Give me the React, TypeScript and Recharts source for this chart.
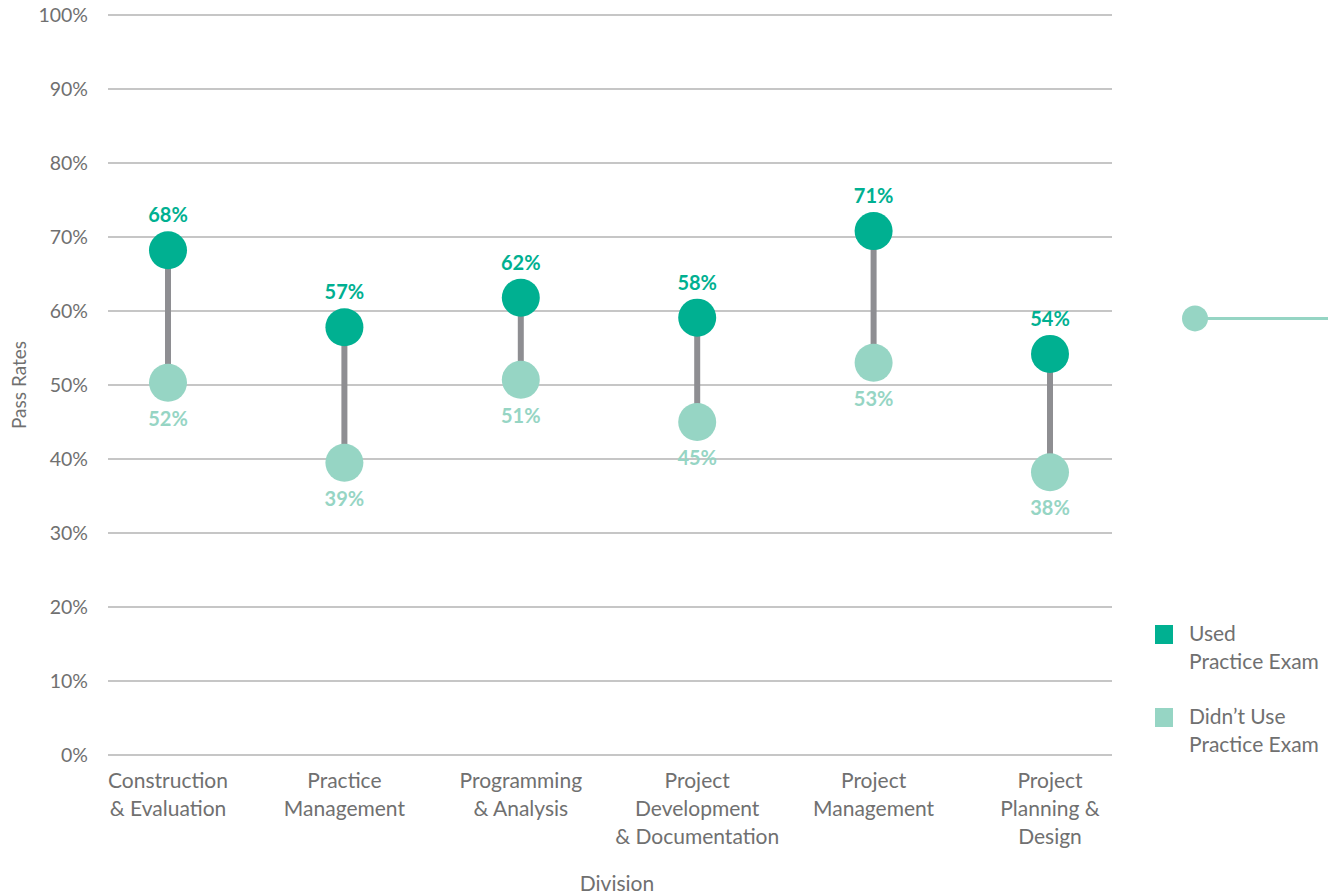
import React from 'react';
import { LineChart, Line, XAxis, YAxis, CartesianGrid, ErrorBar, LabelList, Legend, ReferenceLine, Label } from 'recharts';

const categories = [
  'Construction & Evaluation',
  'Practice Management',
  'Programming & Analysis',
  'Project Development & Documentation',
  'Project Management',
  'Project Planning & Design',
];
const categoryLines = [
  ['Construction', '& Evaluation'],
  ['Practice', 'Management'],
  ['Programming', '& Analysis'],
  ['Project', 'Development', '& Documentation'],
  ['Project', 'Management'],
  ['Project', 'Planning &', 'Design'],
];
const usedValues = [68.2, 57.8, 61.8, 59.1, 70.8, 54.2];
const didntValues = [50.3, 39.5, 50.7, 45.0, 53.0, 38.2];
const usedLabels = ['68%', '57%', '62%', '58%', '71%', '54%'];
const didntLabels = ['52%', '39%', '51%', '45%', '53%', '38%'];
const yTicks = [0, 10, 20, 30, 40, 50, 60, 70, 80, 90, 100];
const markerValue = 59;

const USED = '#00b091';
const DIDNT = '#96d5c4';
const CONNECTOR = '#8e8e92';
const TEXT = '#707070';
const FONT = 'Lato, "Open Sans", sans-serif';

const data = categories.map((c, i) => ({
  category: c,
  used: usedValues[i],
  didnt: didntValues[i],
  gap: [usedValues[i] - didntValues[i], 0],
  usedLabel: usedLabels[i],
  didntLabel: didntLabels[i],
}));

const XTick = (props: any) => {
  const { x, y, index } = props;
  const lines = categoryLines[index] || [];
  return (
    <g>
      {lines.map((l, i) => (
        <text key={i} x={x} y={y + 33 + i * 28} textAnchor="middle" fill={TEXT} fontSize={21} fontFamily={FONT}>
          {l}
        </text>
      ))}
    </g>
  );
};

const LegendContent = () => {
  const items = [
    { color: USED, lines: ['Used', 'Practice Exam'] },
    { color: DIDNT, lines: ['Didn\u2019t Use', 'Practice Exam'] },
  ];
  return (
    <div style={{ fontFamily: FONT, fontSize: 21, color: TEXT, textAlign: 'left' }}>
      {items.map((it, i) => (
        <div key={i} style={{ display: 'flex', alignItems: 'flex-start', marginBottom: i === 0 ? 27 : 0 }}>
          <div style={{ width: 18, height: 19, background: it.color, marginTop: 6, marginRight: 16, flex: 'none' }} />
          <div style={{ lineHeight: '28px', whiteSpace: 'nowrap' }}>
            {it.lines.map((l, j) => (
              <div key={j}>{l}</div>
            ))}
          </div>
        </div>
      ))}
    </div>
  );
};

const MarkerShape = (props: any) => {
  const { x2, y1 } = props;
  return (
    <g>
      <line x1={x2 + 90} y1={y1} x2={x2 + 216} y2={y1} stroke={DIDNT} strokeWidth={3} />
      <circle cx={x2 + 83} cy={y1} r={13} fill={DIDNT} />
    </g>
  );
};

export default function App() {
  return (
    <div style={{ position: 'absolute', left: 0, top: 0, background: '#fff' }}>
      <LineChart width={1328} height={894} data={data} margin={{ top: 15, right: 216, left: 0, bottom: 0 }}>
        <CartesianGrid horizontal vertical={false} stroke="#b3b3b3" strokeWidth={1.5} />
        <XAxis
          dataKey="category"
          height={139}
          padding={{ left: 60, right: 62 }}
          axisLine={false}
          tickLine={false}
          tickSize={0}
          tickMargin={0}
          tick={<XTick />}
          interval={0}
        >
          <Label
            content={(p: any) => {
              const vb = p.viewBox || {};
              return (
                <text x={vb.x + vb.width / 2 + 7} y={891} textAnchor="middle" fill={TEXT} fontSize={21} fontFamily={FONT}>
                  Division
                </text>
              );
            }}
          />
        </XAxis>
        <YAxis
          width={108}
          domain={[0, 100]}
          ticks={yTicks}
          interval={0}
          tickFormatter={(v: number) => `${v}%`}
          axisLine={false}
          tickLine={false}
          tickSize={0}
          tickMargin={20}
          tick={{ fill: TEXT, fontSize: 19.5, fontFamily: FONT }}
        >
          <Label
            content={(p: any) => {
              const vb = p.viewBox || {};
              const cy = vb.y + vb.height / 2;
              return (
                <text
                  x={18}
                  y={cy}
                  transform={`rotate(-90, 18, ${cy})`}
                  textAnchor="middle"
                  dominantBaseline="central"
                  fill={TEXT}
                  fontSize={19}
                  fontFamily={FONT}
                >
                  Pass Rates
                </text>
              );
            }}
          />
        </YAxis>
        <ReferenceLine y={markerValue} stroke="none" shape={<MarkerShape />} />
        <Line dataKey="used" stroke="none" dot={false} activeDot={false} isAnimationActive={false} legendType="none">
          <ErrorBar dataKey="gap" direction="y" width={0} stroke={CONNECTOR} strokeWidth={6} />
        </Line>
        <Line
          dataKey="used"
          stroke="none"
          activeDot={false}
          isAnimationActive={false}
          dot={(p: any) => <circle key={`u${p.index}`} cx={p.cx} cy={p.cy} r={19} fill={USED} />}
        >
          <LabelList
            dataKey="usedLabel"
            content={(p: any) => (
              <text x={p.x} y={p.y - 28} textAnchor="middle" fill={USED} fontSize={20} fontWeight={700} fontFamily={FONT}>
                {p.value}
              </text>
            )}
          />
        </Line>
        <Line
          dataKey="didnt"
          stroke="none"
          activeDot={false}
          isAnimationActive={false}
          dot={(p: any) => <circle key={`d${p.index}`} cx={p.cx} cy={p.cy} r={19} fill={DIDNT} />}
        >
          <LabelList
            dataKey="didntLabel"
            content={(p: any) => (
              <text x={p.x} y={p.y + 43} textAnchor="middle" fill={DIDNT} fontSize={20} fontWeight={700} fontFamily={FONT}>
                {p.value}
              </text>
            )}
          />
        </Line>
        <Legend
          layout="vertical"
          align="center"
          verticalAlign="middle"
          content={<LegendContent />}
          wrapperStyle={{ position: 'absolute', left: 1155, top: 619, width: 180, bottom: 'auto', right: 'auto', margin: 0 }}
        />
      </LineChart>
    </div>
  );
}
